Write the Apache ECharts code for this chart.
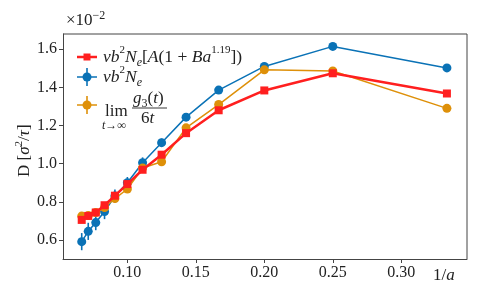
<!DOCTYPE html>
<html><head><meta charset="utf-8">
<script src="https://cdn.jsdelivr.net/npm/echarts@6/dist/echarts.min.js"></script>
<style>html,body{margin:0;padding:0;background:#fff}#c{width:485px;height:300px}</style>
</head><body><div id="c"></div>
<script>
// lattice sizes a; x axis is 1/a
const aValues = [15, 14, 13, 12, 11, 10, 9, 8, 7, 6, 5, 4, 3];
const redValues = [0.705, 0.726, 0.744, 0.782, 0.832, 0.893, 0.968, 1.047, 1.160, 1.280, 1.384, 1.474, 1.368];
const blueValues = [0.591, 0.645, 0.691, 0.749, 0.830, 0.900, 1.005, 1.110, 1.244, 1.386, 1.510, 1.615, 1.502];
const blueErr = [0.045, 0.045, 0.04, 0.04, 0.035, 0.03, 0.028, 0.022, 0.015, 0.01, 0.008, 0.006, 0.006];
const orangeValues = [0.725, 0.728, 0.744, 0.770, 0.817, 0.867, 0.977, 1.010, 1.188, 1.310, 1.492, 1.486, 1.290];
const orangeErr = [0.008, 0.008, 0.008, 0.008, 0.008, 0.008, 0.008, 0.006, 0.006, 0.005, 0.005, 0.005, 0.005];
const xTicks = [0.10, 0.15, 0.20, 0.25, 0.30];
const yTicks = [0.6, 0.8, 1.0, 1.2, 1.4, 1.6];

const RED = '#ff1f1f', BLUE = '#0a72b6', ORANGE = '#de9009';
const SERIF = '"Liberation Serif", "DejaVu Serif", serif';
const xs = aValues.map(a => 1 / a);
const pts = v => xs.map((x, i) => [x, v[i]]);

function errSeries(vals, errs, color) {
  return {
    type: 'custom', silent: true, z: 2,
    data: xs.map((x, i) => [x, vals[i], errs[i]]),
    renderItem: (params, api) => {
      const x = api.value(0), y = api.value(1), e = api.value(2);
      const p1 = api.coord([x, y - e]), p2 = api.coord([x, y + e]);
      return { type: 'line', shape: { x1: p1[0], y1: p1[1], x2: p2[0], y2: p2[1] },
        style: { stroke: color, lineWidth: 1.6 } };
    }
  };
}

const chart = echarts.init(document.getElementById('c'), null, { renderer: 'canvas' });
const FS = 17.5;
const mathRich = {
  i: { fontFamily: SERIF, fontStyle: 'italic', fontSize: FS, fill: '#222' },
  n: { fontFamily: SERIF, fontSize: FS, fill: '#222' },
  sup: { fontFamily: SERIF, fontSize: 11, fill: '#222', verticalAlign: 'top' },
  sub: { fontFamily: SERIF, fontStyle: 'italic', fontSize: 12, fill: '#222', verticalAlign: 'bottom' }
};

function legendIcon(y, color, shape, err, lw) {
  const els = [
    { type: 'line', shape: { x1: 77, y1: y, x2: 97, y2: y }, style: { stroke: color, lineWidth: lw } }
  ];
  if (err) els.push({ type: 'line', shape: { x1: 87, y1: y - 9, x2: 87, y2: y + 9 }, style: { stroke: color, lineWidth: 1.6 } });
  if (shape === 'rect') els.push({ type: 'rect', shape: { x: 83.5, y: y - 3.5, width: 7, height: 7 }, style: { fill: color } });
  else els.push({ type: 'circle', shape: { cx: 87, cy: y, r: 4.5 }, style: { fill: color } });
  return els;
}

chart.setOption({
  animation: false,
  grid: { left: 63, right: 18, top: 34, bottom: 41 },
  xAxis: {
    type: 'value', min: 0.053, max: 0.348,
    axisLine: { show: true, onZero: false, lineStyle: { color: '#444', width: 1 } },
    axisTick: { show: true, length: 4, customValues: xTicks, lineStyle: { color: '#444' } },
    axisLabel: { customValues: xTicks, formatter: v => v.toFixed(2), fontFamily: SERIF, fontSize: 16, color: '#222', margin: 6 },
    splitLine: { show: false }
  },
  yAxis: {
    type: 'value', min: 0.5, max: 1.68,
    axisLine: { show: true, onZero: false, lineStyle: { color: '#444', width: 1 } },
    axisTick: { show: true, length: 4, customValues: yTicks, lineStyle: { color: '#444' } },
    axisLabel: { customValues: yTicks, formatter: v => v.toFixed(1), fontFamily: SERIF, fontSize: 16, color: '#222', margin: 6 },
    splitLine: { show: false }
  },
  series: [
    errSeries(blueValues, blueErr, BLUE),
    { type: 'line', data: pts(blueValues), symbol: 'circle', symbolSize: 9, z: 3,
      lineStyle: { color: BLUE, width: 1.5 }, itemStyle: { color: BLUE } },
    errSeries(orangeValues, orangeErr, ORANGE),
    { type: 'line', data: pts(orangeValues), symbol: 'circle', symbolSize: 9, z: 4,
      lineStyle: { color: ORANGE, width: 1.5 }, itemStyle: { color: ORANGE } },
    { type: 'line', data: pts(redValues), symbol: 'rect', symbolSize: 8, z: 5,
      lineStyle: { color: RED, width: 2.5 }, itemStyle: { color: RED } }
  ],
  graphic: [
    // frame top & right
    { type: 'line', shape: { x1: 63, y1: 34, x2: 467, y2: 34 }, style: { stroke: '#444', lineWidth: 1 }, z: 10 },
    { type: 'line', shape: { x1: 467, y1: 34, x2: 467, y2: 259 }, style: { stroke: '#444', lineWidth: 1 }, z: 10 },
    // multiplier
    { type: 'text', x: 66, y: 10, style: { text: '{n|×10}{sup|−2}', rich: {
        n: { fontFamily: SERIF, fontSize: 17, fill: '#222' },
        sup: { fontFamily: SERIF, fontSize: 12, fill: '#222', verticalAlign: 'top' } }, lineHeight: 22 } },
    // x axis name
    { type: 'text', x: 433, y: 267, style: { text: '{n|1/}{i|a}', rich: {
        n: { fontFamily: SERIF, fontSize: 17, fill: '#222' },
        i: { fontFamily: SERIF, fontStyle: 'italic', fontSize: 17, fill: '#222' } } } },
    // y axis name
    { type: 'text', x: 14, y: 177, rotation: Math.PI / 2, style: { text: '{n|D [}{i|σ}{sup|2}{n|/}{i|τ}{n|]}', rich: {
        n: { fontFamily: SERIF, fontSize: 17, fill: '#222' },
        i: { fontFamily: SERIF, fontStyle: 'italic', fontSize: 17, fill: '#222' },
        sup: { fontFamily: SERIF, fontSize: 11, fill: '#222', verticalAlign: 'top' } }, lineHeight: 22 } },
    // legend
    ...legendIcon(57, RED, 'rect', false, 2.5),
    ...legendIcon(77, BLUE, 'circle', true, 1.5),
    ...legendIcon(105, ORANGE, 'circle', true, 1.5),
    { type: 'text', x: 103, y: 45, style: { text: '{i|vb}{sup|2}{i|N}{sub|e}{n|[}{i|A}{n|(1 + }{i|Ba}{sup|1.19}{n|])}', rich: mathRich, lineHeight: 24 } },
    { type: 'text', x: 103, y: 65, style: { text: '{i|vb}{sup|2}{i|N}{sub|e}', rich: mathRich, lineHeight: 24 } },
    { type: 'text', x: 105, y: 103, style: { text: 'lim', font: '17px ' + SERIF, fill: '#222' } },
    { type: 'text', x: 102, y: 120, style: { text: 't→∞', font: 'italic 12px ' + SERIF, fill: '#222' } },
    { type: 'text', x: 133, y: 88, style: { text: '{i|g}{s|3}{n|(}{i|t}{n|)}', rich: {
        i: { fontFamily: SERIF, fontStyle: 'italic', fontSize: 17, fill: '#222' },
        n: { fontFamily: SERIF, fontSize: 17, fill: '#222' },
        s: { fontFamily: SERIF, fontSize: 12, fill: '#222', verticalAlign: 'bottom' } }, lineHeight: 22 } },
    { type: 'line', shape: { x1: 132, y1: 108, x2: 167, y2: 108 }, style: { stroke: '#222', lineWidth: 0.9 } },
    { type: 'text', x: 141, y: 110, style: { text: '{n|6}{i|t}', rich: {
        i: { fontFamily: SERIF, fontStyle: 'italic', fontSize: 17, fill: '#222' },
        n: { fontFamily: SERIF, fontSize: 17, fill: '#222' } } } }
  ]
});
</script></body></html>
